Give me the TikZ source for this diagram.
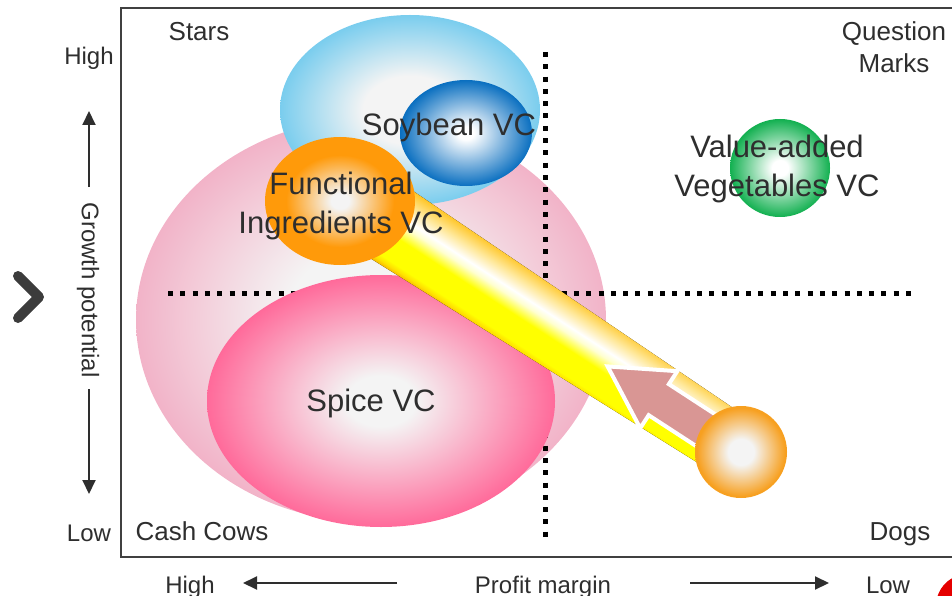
\documentclass[tikz,border=0pt]{standalone}
\usepackage{fontspec}
\setmainfont{Liberation Sans}
\usetikzlibrary{arrows.meta,shapes.geometric}
\definecolor{txt}{HTML}{2E2E2E}
\definecolor{framec}{HTML}{404040}
\definecolor{bubcore}{HTML}{F4F4F4}
\definecolor{pinkedge}{HTML}{F2B3C8}
\definecolor{spiceedge}{HTML}{FF6A9A}
\definecolor{skyedge}{HTML}{7ACDEE}
\definecolor{blueedge}{HTML}{0A6FC0}
\definecolor{greenedge}{HTML}{12B050}
\definecolor{funcedge}{HTML}{FF9A0A}
\definecolor{orangeedge}{HTML}{F7A020}
\definecolor{arrowpink}{HTML}{D99694}
\definecolor{bandOa}{HTML}{F5A800}
\definecolor{bandYa}{HTML}{FFE000}
\definecolor{bandY}{HTML}{FFFF00}
\definecolor{bandYb}{HTML}{FFFFD0}
\definecolor{bandG}{HTML}{FFE89A}
\definecolor{bandOb}{HTML}{FFC21A}
\definecolor{chev}{HTML}{3C3C3C}
\definecolor{dotred}{HTML}{E50000}
\pgfdeclareradialshading{shCows}{\pgfpoint{0bp}{0bp}}{color(0bp)=(bubcore); color(9bp)=(bubcore); color(25bp)=(pinkedge); color(50bp)=(pinkedge)}
\pgfdeclareradialshading{shSpice}{\pgfpoint{0bp}{0bp}}{color(0bp)=(bubcore); color(5bp)=(bubcore); color(25bp)=(spiceedge); color(50bp)=(spiceedge)}
\pgfdeclareradialshading{shSky}{\pgfpoint{0bp}{0bp}}{color(0bp)=(bubcore); color(9bp)=(bubcore); color(25bp)=(skyedge); color(50bp)=(skyedge)}
\pgfdeclareradialshading{shBlue}{\pgfpoint{0bp}{0bp}}{color(0bp)=(white); color(3bp)=(white); color(25bp)=(blueedge); color(50bp)=(blueedge)}
\pgfdeclareradialshading{shGreen}{\pgfpoint{0bp}{0bp}}{color(0bp)=(white); color(4bp)=(white); color(25bp)=(greenedge); color(50bp)=(greenedge)}
\pgfdeclareradialshading{shFunc}{\pgfpoint{0bp}{0bp}}{color(0bp)=(bubcore); color(3bp)=(bubcore); color(18bp)=(funcedge); color(50bp)=(funcedge)}
\pgfdeclareradialshading{shOrange}{\pgfpoint{0bp}{0bp}}{color(0bp)=(bubcore); color(7bp)=(bubcore); color(24bp)=(orangeedge); color(50bp)=(orangeedge)}
\pgfdeclareverticalshading{shBand}{100bp}{color(0bp)=(bandOa); color(25bp)=(bandOa); color(28bp)=(bandYa); color(31bp)=(bandY); color(45bp)=(bandY); color(53bp)=(bandYb); color(57bp)=(white); color(65bp)=(bandG); color(75bp)=(bandOb); color(100bp)=(bandOb)}
\begin{document}
\begin{tikzpicture}[x=1pt,y=-1pt,
  bubble/.style={ellipse, inner sep=0pt, outer sep=0pt, draw=none},
  dotline/.style={line width=5pt, dash pattern=on 5pt off 7.3pt, black},
  framel/.style={line width=2pt, framec},
  axarrow/.style={line width=2pt, txt, -{Triangle[length=14pt,width=13pt]}},
  biglbl/.style={font=\fontsize{31}{38.5}\selectfont, text=txt, inner sep=0pt},
  quadlbl/.style={font=\fontsize{26}{32}\selectfont, text=txt, inner sep=0pt},
  axlbl/.style={font=\fontsize{24}{29}\selectfont, text=txt, inner sep=0pt}]
\useasboundingbox (0,0) rectangle (952,596);
% background bubbles
\node[bubble, shading=shCows, minimum width=470pt, minimum height=404pt] (cows) at (371,320) {};
% dotted quadrant lines
\coordinate (vtop) at (545,52);
\coordinate (vbot) at (545,541);
\coordinate (hleft) at (168,293);
\coordinate (hright) at (916,293);
\draw[dotline] (vtop) -- (vbot);
\draw[dotline] (hleft) -- (hright);
\node[bubble, shading=shSpice, minimum width=348pt, minimum height=252pt] (spice) at (381,401) {};
\node[bubble, shading=shSky, minimum width=260pt, minimum height=190pt] (sky) at (410,110) {};
\node[bubble, shading=shBlue, minimum width=132pt, minimum height=106pt] (soy) at (466,133) {};
\node[bubble, shading=shGreen, minimum width=100pt, minimum height=98pt] (veg) at (780,168) {};
% band and arrow
\begin{scope}[transform canvas={shift={(340,191)}, rotate=-33.06}]
  \fill[shading=shBand] (0,-41) -- (480,-32) -- (480,32) -- (0,41) -- cycle;
  \draw[white, line width=4pt, fill=arrowpink, line join=miter]
    (320,1) -- (381,-33) -- (381,-17.5) -- (485,-17.5) -- (485,19.5) -- (381,19.5) -- (381,35) -- cycle;
\end{scope}
\node[bubble, shading=shFunc, minimum width=150pt, minimum height=128pt] (func) at (340,201) {};
\node[bubble, shading=shOrange, minimum width=92pt, minimum height=92pt] (dog) at (741,452) {};
% bubble labels
\node[biglbl, anchor=base] (soytxt) at (449,136) {Soybean VC};
\node[biglbl, align=center] (functxt) at (341,206) {Functional\\Ingredients VC};
\node[biglbl, align=center] (vegtxt) at (777,169) {Value-added\\Vegetables VC};
\node[biglbl, anchor=base] (spicetxt) at (371,411) {Spice VC};
% quadrant labels
\node[quadlbl, anchor=base] (stars) at (199,41) {Stars};
\node[quadlbl, align=center] (qm) at (894,47.5) {Question\\Marks};
\node[quadlbl, anchor=base] (cash) at (202,540) {Cash Cows};
\node[quadlbl, anchor=base] (dogs) at (900,540) {Dogs};
% frame
\coordinate (f1) at (960,8);
\coordinate (f2) at (121,8);
\coordinate (f3) at (121,557);
\coordinate (f4) at (960,557);
\draw[framel] (f1) -- (f2) -- (f3) -- (f4);
% vertical axis
\node[axlbl, anchor=base] (yhigh) at (89,65) {High};
\node[axlbl, anchor=base] (ylow) at (89,541) {Low};
\node[axlbl, rotate=-90] (ylab) at (88,290) {Growth potential};
\coordinate (ua) at (89,187);
\coordinate (ub) at (89,111);
\coordinate (da) at (89,389);
\coordinate (db) at (89,494);
\draw[axarrow] (ua) -- (ub);
\draw[axarrow] (da) -- (db);
% horizontal axis
\node[axlbl, anchor=base] (xhigh) at (190,593) {High};
\node[axlbl, anchor=base] (xlab) at (543,593) {Profit margin};
\node[axlbl, anchor=base] (xlow) at (888,593) {Low};
\coordinate (la) at (397,583);
\coordinate (lb) at (243,583);
\coordinate (ra) at (690,583);
\coordinate (rb) at (829,583);
\draw[axarrow] (la) -- (lb);
\draw[axarrow] (ra) -- (rb);
% chevron and red dot
\draw[chev, line width=10pt, line cap=round, line join=round] (18,276) -- (39,297) -- (18,318);
\fill[dotred] (968,606) circle (32pt);
\end{tikzpicture}
\end{document}
